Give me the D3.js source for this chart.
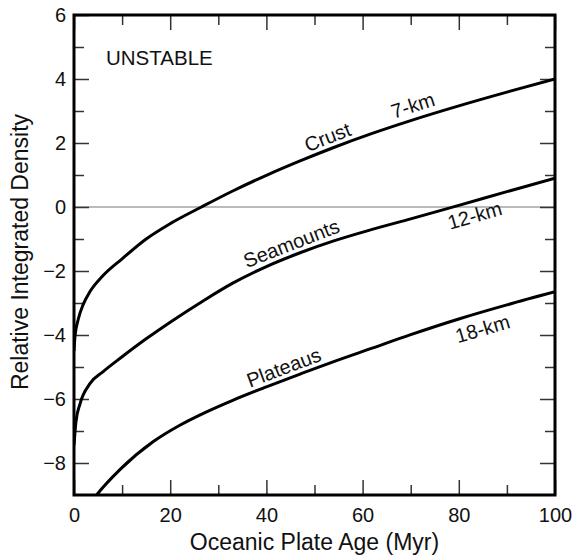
<!DOCTYPE html>
<html>
<head>
<meta charset="utf-8">
<script src="https://cdn.jsdelivr.net/npm/d3@7"></script>
<style>
  body { margin: 0; background: #fff; }
  svg { display: block; font-family: "Liberation Sans", Arial, Helvetica, sans-serif; }
</style>
</head>
<body>
<svg id="chart" width="577" height="559"></svg>
<script>
const width = 577, height = 559;
const margin = { top: 15, right: 22, bottom: 64, left: 74 };

// values
const crustAge = [0, 0.2, 0.9, 1.9, 3.3, 6, 10, 15, 20, 26.5, 33, 40, 47, 54, 62, 70, 80, 90, 100];
const crustDensity = [-4.5, -4.05, -3.5, -3.05, -2.65, -2.15, -1.62, -1.0, -0.52, 0, 0.5, 0.99, 1.44, 1.86, 2.3, 2.7, 3.16, 3.59, 4.0];

const seamountAge = [0, 0.4, 1.25, 3.3, 6, 10, 15, 20, 27, 33, 40, 47, 54, 62, 70, 80, 90, 100];
const seamountDensity = [-7.45, -6.72, -6.15, -5.52, -5.15, -4.68, -4.12, -3.6, -2.92, -2.38, -1.86, -1.43, -1.06, -0.7, -0.37, 0.05, 0.48, 0.9];

const plateauAge = [3.5, 4.7, 9.6, 16.5, 22, 27, 33, 40, 47, 54, 62, 70, 80, 90, 100];
const plateauDensity = [-9.24, -9.0, -8.2, -7.33, -6.82, -6.44, -6.04, -5.62, -5.22, -4.83, -4.41, -3.99, -3.5, -3.06, -2.65];

const xMajorTicks = [0, 20, 40, 60, 80, 100];
const xMinorTicks = [10, 30, 50, 70, 90];
const yMajorTicks = [6, 4, 2, 0, -2, -4, -6, -8];
const yMinorTicks = [5, 3, 1, -1, -3, -5, -7];

const series = [
    { ages: crustAge, dens: crustDensity, labels: [["Crust", 53.6, 12], ["7-km", 71.3, 14]] },
    { ages: seamountAge, dens: seamountDensity, labels: [["Seamounts", 46.1, 12], ["12-km", 82.5, -14]] },
    { ages: plateauAge, dens: plateauDensity, labels: [["Plateaus", 44.5, 12], ["18-km", 84, -16]] }
];

const svg = d3.select("#chart");

const x = d3.scaleLinear().domain([0, 100]).range([margin.left, width - margin.right]);
const y = d3.scaleLinear().domain([-9, 6]).range([height - margin.bottom, margin.top]);

svg.append("defs").append("clipPath").attr("id", "plot-clip")
    .append("rect")
    .attr("x", margin.left).attr("y", margin.top)
    .attr("width", width - margin.left - margin.right)
    .attr("height", height - margin.top - margin.bottom);

// zero line
svg.append("line")
    .attr("x1", x(0)).attr("x2", x(100))
    .attr("y1", y(0)).attr("y2", y(0))
    .attr("stroke", "#777")
    .attr("stroke-width", 1.2);

function styleAxis(g) {
    g.select(".domain").remove();
    g.selectAll(".tick line").attr("stroke", "#333").attr("stroke-width", 1.5);
    g.selectAll(".tick text").attr("fill", "#111").attr("font-size", 20);
}

const yBottom = y(-9), yTop = y(6), xLeft = x(0), xRight = x(100);

svg.append("g").attr("transform", `translate(0,${yBottom})`)
    .call(d3.axisBottom(x).tickValues(xMajorTicks).tickSize(-15).tickPadding(13).tickFormat(d3.format("d")))
    .call(styleAxis);
svg.append("g").attr("transform", `translate(0,${yBottom})`)
    .call(d3.axisBottom(x).tickValues(xMinorTicks).tickSize(-10).tickFormat(""))
    .call(styleAxis);
svg.append("g").attr("transform", `translate(0,${yTop})`)
    .call(d3.axisTop(x).tickValues(xMajorTicks).tickSize(-15).tickFormat(""))
    .call(styleAxis);
svg.append("g").attr("transform", `translate(0,${yTop})`)
    .call(d3.axisTop(x).tickValues(xMinorTicks).tickSize(-10).tickFormat(""))
    .call(styleAxis);

svg.append("g").attr("transform", `translate(${xLeft},0)`)
    .call(d3.axisLeft(y).tickValues(yMajorTicks).tickSize(-15).tickPadding(8))
    .call(styleAxis);
svg.append("g").attr("transform", `translate(${xLeft},0)`)
    .call(d3.axisLeft(y).tickValues(yMinorTicks).tickSize(-10).tickFormat(""))
    .call(styleAxis);
svg.append("g").attr("transform", `translate(${xRight},0)`)
    .call(d3.axisRight(y).tickValues(yMajorTicks).tickSize(-15).tickFormat(""))
    .call(styleAxis);
svg.append("g").attr("transform", `translate(${xRight},0)`)
    .call(d3.axisRight(y).tickValues(yMinorTicks).tickSize(-10).tickFormat(""))
    .call(styleAxis);

// curves
const line = d3.line()
    .x(d => x(d[0]))
    .y(d => y(d[1]))
    .curve(d3.curveMonotoneX);

series.forEach(s => {
    const pts = s.ages.map((a, i) => [a, s.dens[i]]);
    svg.append("path")
        .datum(pts)
        .attr("clip-path", "url(#plot-clip)")
        .attr("fill", "none")
        .attr("stroke", "#000")
        .attr("stroke-width", 3)
        .attr("stroke-linejoin", "round")
        .attr("d", line);
});

// frame
svg.append("rect")
    .attr("x", xLeft).attr("y", yTop)
    .attr("width", xRight - xLeft).attr("height", yBottom - yTop)
    .attr("fill", "none")
    .attr("stroke", "#000")
    .attr("stroke-width", 3);

// curve labels, rotated along the curve
function valueAt(ages, dens, t) {
    return d3.scaleLinear().domain(ages).range(dens)(t);
}

series.forEach(s => {
    s.labels.forEach(([txt, t, off]) => {
        const px = x(t), py = y(valueAt(s.ages, s.dens, t));
        const dx = x(t + 3) - x(t - 3);
        const dy = y(valueAt(s.ages, s.dens, t + 3)) - y(valueAt(s.ages, s.dens, t - 3));
        const len = Math.hypot(dx, dy);
        const nx = dy / len, ny = -dx / len;
        const angle = Math.atan2(dy, dx) * 180 / Math.PI;
        svg.append("text")
            .attr("transform", `translate(${px + nx * off},${py + ny * off}) rotate(${angle})`)
            .attr("text-anchor", "middle")
            .attr("dominant-baseline", "central")
            .attr("font-size", 20)
            .attr("fill", "#111")
            .text(txt);
    });
});

svg.append("text")
    .attr("x", 106).attr("y", 65)
    .attr("font-size", 20.5)
    .attr("fill", "#111")
    .text("UNSTABLE");

svg.append("text")
    .attr("x", (xLeft + xRight) / 2)
    .attr("y", 550)
    .attr("text-anchor", "middle")
    .attr("font-size", 23)
    .attr("fill", "#111")
    .text("Oceanic Plate Age (Myr)");

svg.append("text")
    .attr("transform", `translate(28,${(yTop + yBottom) / 2 - 3}) rotate(-90)`)
    .attr("text-anchor", "middle")
    .attr("font-size", 23)
    .attr("fill", "#111")
    .text("Relative Integrated Density");
</script>
</body>
</html>
